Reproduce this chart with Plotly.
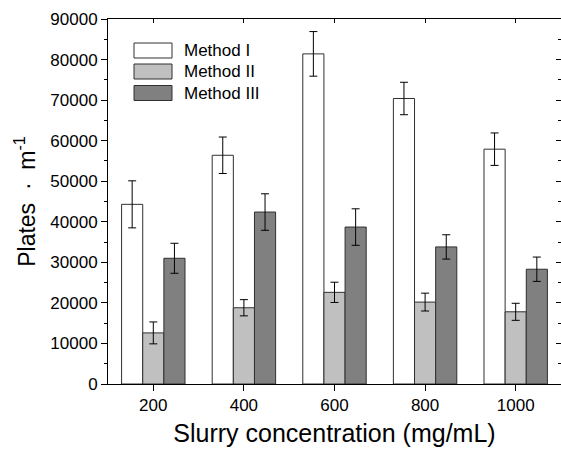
import plotly.graph_objects as go

categories = ["200", "400", "600", "800", "1000"]
series_names = ["Method I", "Method II", "Method III"]
method1 = [44300, 56400, 81400, 70400, 57900]
method1_err = [5800, 4500, 5500, 4000, 4000]
method2 = [12600, 18800, 22600, 20200, 17800]
method2_err = [2700, 2000, 2500, 2200, 2100]
method3 = [31000, 42400, 38700, 33800, 28300]
method3_err = [3700, 4500, 4500, 3000, 3000]

values = [method1, method2, method3]
errors = [method1_err, method2_err, method3_err]
colors = ["#ffffff", "#c0c0c0", "#808080"]

W, H = 561, 450
L, R, T, B = 108, 0, 19, 66

fig = go.Figure()
for name, v, e, c in zip(series_names, values, errors, colors):
    fig.add_trace(go.Bar(
        x=categories, y=v, name=name,
        marker=dict(color=c, line=dict(color="#303030", width=1)),
        error_y=dict(type="data", array=e, visible=True, color="#000000",
                     thickness=1, width=4),
        showlegend=False,
    ))

# invisible trace to hold the mirrored axes
fig.add_trace(go.Scatter(x=categories, y=[0]*len(categories), xaxis="x2", yaxis="y2",
                         mode="markers", marker=dict(opacity=0), showlegend=False,
                         hoverinfo="skip"))

font_family = "Liberation Sans, Arial, sans-serif"
fig.update_layout(
    width=W, height=H,
    margin=dict(l=L, r=R, t=T, b=B),
    paper_bgcolor="white", plot_bgcolor="white",
    barmode="group", bargap=0.3, bargroupgap=0,
    font=dict(family=font_family, color="#000000"),
    xaxis=dict(
        type="category", range=[-0.5, 4.5],
        showline=True, linecolor="#000000", linewidth=1,
        ticks="outside", ticklen=6, tickwidth=1, tickcolor="#000000",
        showgrid=False, zeroline=False,
        tickfont=dict(size=17),
        title=dict(text="Slurry concentration (mg/mL)", font=dict(size=25), standoff=10),
    ),
    yaxis=dict(
        range=[0, 90000], dtick=10000, tickformat="d",
        showline=True, linecolor="#000000", linewidth=1,
        ticks="outside", ticklen=6, tickwidth=1, tickcolor="#000000",
        minor=dict(ticks="outside", ticklen=3, dtick=5000, tickcolor="#000000"),
        showgrid=False, zeroline=False,
        tickfont=dict(size=17),
        title=dict(text="Plates\u00a0\u00a0·\u00a0\u00a0m<sup>-1</sup>", font=dict(size=23), standoff=8),
    ),
    xaxis2=dict(
        type="category", range=[-0.5, 4.5], overlaying="x", side="top",
        showline=True, linecolor="#000000", linewidth=1,
        ticks="inside", ticklen=4, tickcolor="#000000",
        showticklabels=False, showgrid=False, zeroline=False,
    ),
    yaxis2=dict(
        range=[0, 90000], dtick=10000, overlaying="y", side="right",
        showline=True, linecolor="#000000", linewidth=1,
        ticks="inside", ticklen=5, tickcolor="#000000",
        minor=dict(ticks="inside", ticklen=3, dtick=5000, tickcolor="#000000"),
        showticklabels=False, showgrid=False, zeroline=False,
    ),
)

# Legend drawn manually (wide swatches like the original)
pw, ph = W - L - R, H - T - B
def px2paper(x, y):
    return (x - L) / pw, (H - B - y) / ph

rows_y = [50.5, 71.5, 93]
for name, c, yc in zip(series_names, colors, rows_y):
    x0, y0 = px2paper(134, yc - 7.5)
    x1, y1 = px2paper(172, yc + 7.5)
    fig.add_shape(type="rect", xref="paper", yref="paper", x0=x0, x1=x1, y0=y1, y1=y0,
                  fillcolor=c, line=dict(color="#303030", width=1))
    tx, ty = px2paper(182, yc)
    fig.add_annotation(xref="paper", yref="paper", x=tx, y=ty, text=name,
                       showarrow=False, xanchor="left", yanchor="middle",
                       font=dict(size=17, family=font_family, color="#000000"))

fig.write_html("out.html")
